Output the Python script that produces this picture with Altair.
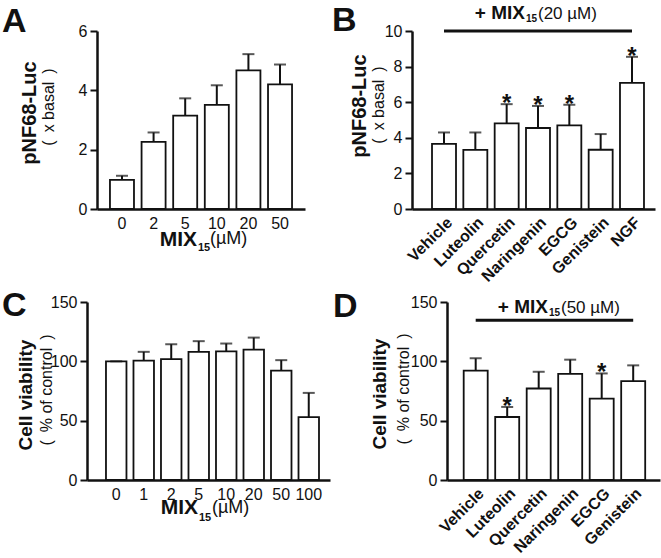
import altair as alt
import pandas as pd

FONT = "Liberation Sans"
INK = "#111111"
SP = "\u2002"  # en space, kept as-is by SVG text

# Panel A: pNF68 promoter activity against MIX15 dose (x basal)
a_dose = ["0", "2", "5", "10", "20", "50"]
a_mean = [0.98, 2.26, 3.15, 3.51, 4.67, 4.20]
a_err = [0.14, 0.32, 0.58, 0.66, 0.55, 0.67]

# Panel B: flavonoids / NGF on top of MIX15 (20 uM)
b_group = ["Vehicle", "Luteolin", "Quercetin", "Naringenin", "EGCG", "Genistein", "NGF"]
b_mean = [3.66, 3.32, 4.81, 4.55, 4.70, 3.33, 7.09]
b_err = [0.64, 0.98, 1.08, 1.24, 1.16, 0.88, 1.46]
b_sig = [0, 0, 1, 1, 1, 0, 1]

# Panel C: cell viability against MIX15 dose (% of control)
c_dose = ["0", "1", "2", "5", "10", "20", "50", "100"]
c_mean = [100.0, 100.6, 101.8, 108.0, 108.4, 109.8, 92.1, 53.0]
c_err = [0.0, 7.4, 12.6, 9.0, 6.6, 10.2, 8.9, 20.4]

# Panel D: cell viability with flavonoids on top of MIX15 (50 uM)
d_group = ["Vehicle", "Luteolin", "Quercetin", "Naringenin", "EGCG", "Genistein"]
d_mean = [92.1, 53.1, 77.1, 89.5, 68.6, 83.3]
d_err = [10.4, 8.5, 14.1, 11.9, 21.2, 13.3]
d_sig = [0, 1, 0, 0, 1, 0]

# treatment brackets: first group, last group, height (data units)
b_bracket = ("Vehicle", "NGF", 10)
d_bracket = ("Vehicle", "Genistein", 134.6)


def frame(cats, mean, err, sig=None):
    return pd.DataFrame({
        "cat": cats,
        "mean": mean,
        "top": [m + e for m, e in zip(mean, err)],
        "sig": sig if sig is not None else [0] * len(cats),
    })


def label(t, x, y, size, bold=False, angle=None, align="left", baseline="alphabetic"):
    kw = dict(font=FONT, fontSize=size, fontWeight="bold" if bold else "normal",
              align=align, baseline=baseline, color=INK)
    if angle is not None:
        kw["angle"] = angle
    return alt.Chart(pd.DataFrame({"t": [t]})).mark_text(**kw).encode(
        text="t:N", x=alt.value(x), y=alt.value(y))


def panel(df, cats, ymax, ystep, w, h, band, x_axis, x_range, y_offset=0,
          bracket=None, extras=()):
    x_scale = alt.Scale(domain=cats, range=x_range, **band)
    x = alt.X("cat:N", scale=x_scale, axis=x_axis, title=None)
    y_scale = alt.Scale(domain=[0, ymax], nice=False, zero=True)
    y_axis = alt.Axis(values=list(range(0, ymax + 1, ystep)), title=None, offset=y_offset)

    def Y(field):
        return alt.Y(field, scale=y_scale, axis=y_axis, title=None)

    base = alt.Chart(df).encode(x=x)
    layers = [
        base.mark_bar(fill="white", stroke=INK, strokeWidth=1.8).encode(y=Y("mean:Q")),
        base.mark_rule(color=INK, strokeWidth=2).encode(y=Y("mean:Q"), y2="top:Q"),
        base.mark_tick(color=INK, size=12, thickness=2).encode(y=Y("top:Q")),
        base.transform_filter("datum.sig == 1").mark_text(
            text="*", font=FONT, fontSize=24, fontWeight="bold", color=INK,
            baseline="alphabetic", dy=7).encode(y=Y("top:Q")),
    ]
    if bracket is not None:
        start, end, level = bracket
        bdf = pd.DataFrame({"cat": [start], "cat_end": [end], "lvl": [level]})
        layers.append(
            alt.Chart(bdf).mark_rule(color=INK, strokeWidth=3).encode(
                x=x, x2="cat_end:N", y=Y("lvl:Q")))
    return alt.layer(*layers, *extras).properties(width=w, height=h)


dose_axis = alt.Axis(labelAngle=0, labelFontSize=16, labelPadding=6, title=None)
group_axis = alt.Axis(labelAngle=-45, labelFontWeight="bold", labelFontSize=16,
                      labelAlign="right", labelBaseline="top", labelPadding=5, title=None)

basal = f"({SP}x basal{SP})"
control = f"({SP}% of control{SP})"

# Left column cells are 243 px wide, right column cells start 107 px further on.
# Each panel's own axis extent is set through the x range and the y-axis offset.
pa = panel(
    frame(a_dose, a_mean, a_err), a_dose, 6, 2, 243, 178,
    dict(paddingInner=0.24, paddingOuter=0.41, align=0.5), dose_axis,
    x_range=[0, 208],
    extras=(
        label("A", -95, 1, 34, bold=True),
        label("pNF68-Luc", -67, 82, 20, bold=True, angle=270, align="center", baseline="middle"),
        label(basal, -48, 76, 16, angle=270, align="center", baseline="middle"),
        label("MIX", 100, 215, 21, bold=True, align="right"),
        label("15", 101, 220, 11, bold=True),
        label("(µM)", 113, 213, 18),
    ),
)

pb = panel(
    frame(b_group, b_mean, b_err, b_sig), b_group, 10, 2, 213, 178,
    dict(paddingInner=0.234, paddingOuter=0.495, align=0.645), group_axis,
    x_range=[-35, 208], y_offset=35, bracket=b_bracket,
    extras=(
        label("B", -115, 0, 34, bold=True),
        label("pNF68-Luc", -87, 75, 20, bold=True, angle=270, align="center", baseline="middle"),
        label(basal, -68, 74, 16, angle=270, align="center", baseline="middle"),
        label("+ MIX", 78, -12, 19, bold=True, align="right"),
        label("15", 79, -9, 10, bold=True),
        label("(20 µM)", 91, -12, 17),
    ),
)

pc = panel(
    frame(c_dose, c_mean, c_err), c_dose, 150, 50, 243, 178,
    dict(paddingInner=0.255, paddingOuter=0.545, align=0.633), dose_axis,
    x_range=[-10, 233], y_offset=10,
    extras=(
        label("C", -95, 14, 34, bold=True),
        label("Cell viability", -71.5, 93, 19, bold=True, angle=270, align="center", baseline="middle"),
        label(control, -50.5, 88, 16, angle=270, align="center", baseline="middle"),
        label("MIX", 101, 212, 21, bold=True, align="right"),
        label("15", 102, 219, 11, bold=True),
        label("(µM)", 115, 211, 18),
    ),
)

pd_ = panel(
    frame(d_group, d_mean, d_err, d_sig), d_group, 150, 50, 213, 178,
    dict(paddingInner=0.238, paddingOuter=0.5, align=0.53), group_axis,
    x_range=[0, 213], bracket=d_bracket,
    extras=(
        label("D", -114, 15, 34, bold=True),
        label("Cell viability", -67, 92, 19, bold=True, angle=270, align="center", baseline="middle"),
        label(control, -43, 87, 16, angle=270, align="center", baseline="middle"),
        label("+ MIX", 101, 11, 19, bold=True, align="right"),
        label("15", 102, 14, 10, bold=True),
        label("(50 µM)", 114, 11, 17),
    ),
)

# fixed canvas: the grid origin (top-left of panel A's plot) sits at the padding offset
chart = alt.concat(
    pa, pb, pc, pd_, columns=2,
    spacing={"row": 93, "column": 107},
    bounds="flush", align="none",
).properties(
    autosize=alt.AutoSizeParams(type="none"),
    padding={"left": 97, "top": 31, "right": 564, "bottom": 527},
    background="white",
).configure_view(stroke=None).configure_axis(
    domainColor=INK, tickColor=INK, labelColor=INK, labelFont=FONT,
    labelFontSize=16, grid=False,
).configure_axisY(
    domainWidth=2.5, tickWidth=2, tickSize=7, labelPadding=3,
).configure_axisX(
    domainWidth=2.5, ticks=False,
)

chart.save("out.html", embed_options={"renderer": "svg", "actions": False})
